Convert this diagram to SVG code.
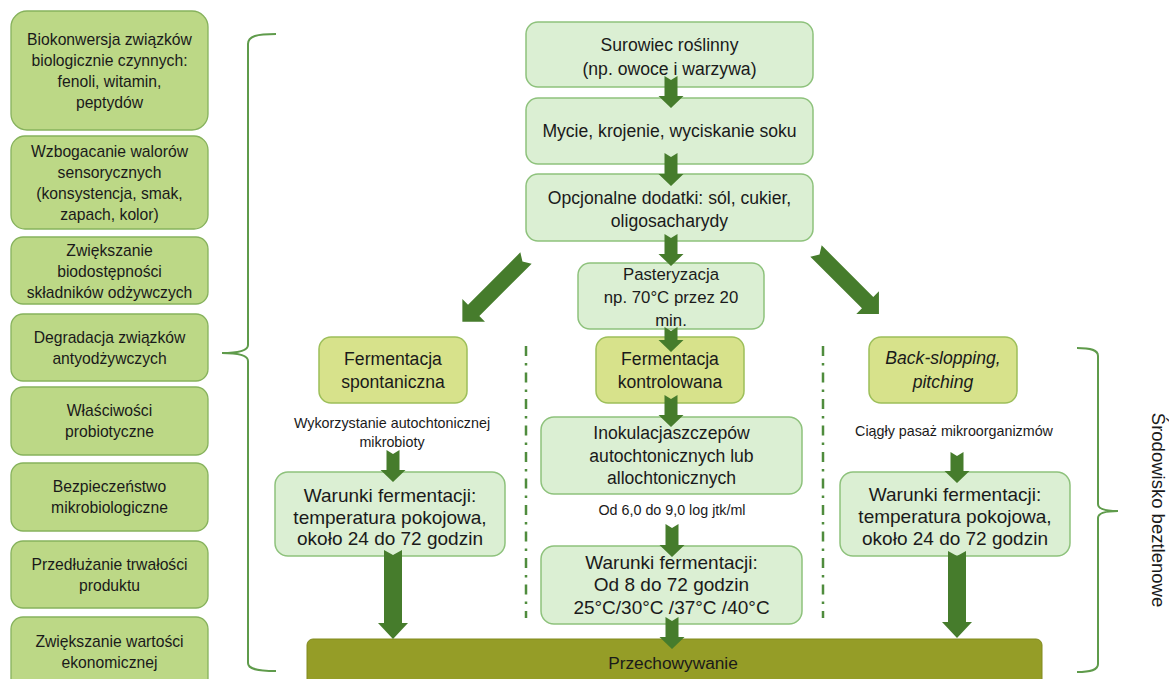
<svg xmlns="http://www.w3.org/2000/svg" width="1169" height="679" viewBox="0 0 1169 679">
<style>
text{font-family:"Liberation Sans",Arial,sans-serif;fill:#1a1a1a;text-anchor:middle;dominant-baseline:central}
.ben rect{fill:#bcd886;stroke:#86b25c;stroke-width:1.3}
.ben text{font-size:15.7px}
.step rect{fill:#dbefd3;stroke:#8ec27c;stroke-width:1.5}
.step text{font-size:17.6px}
.cond text{font-size:19px}
.ferm rect{fill:#d7e28b;stroke:#9dbf5a;stroke-width:1.5}
.ferm text{font-size:17.6px}
.lbl{font-size:14.3px}
.arr{fill:#467c2c}
.br{fill:none;stroke:#5f9b4b;stroke-width:2}
.dd{stroke:#4f8c3d;stroke-width:2.5;stroke-dasharray:10 7 2.5 7}
</style>
<rect width="1169" height="679" fill="#ffffff"/>

<g id="benefits" class="ben">
<g id="b1"><rect x="11" y="11" width="197" height="119" rx="16"/>
<text x="109.5" y="39">Biokonwersja związków</text><text x="109.5" y="60">biologicznie czynnych:</text><text x="109.5" y="81">fenoli, witamin,</text><text x="109.5" y="102">peptydów</text></g>
<g id="b2"><rect x="11" y="136" width="197" height="93" rx="14"/>
<text x="109.5" y="151.5">Wzbogacanie walorów</text><text x="109.5" y="172.5">sensorycznych</text><text x="109.5" y="193.5">(konsystencja, smak,</text><text x="109.5" y="214.5">zapach, kolor)</text></g>
<g id="b3"><rect x="11" y="237" width="197" height="67" rx="12"/>
<text x="109.5" y="250">Zwiększanie</text><text x="109.5" y="271">biodostępności</text><text x="109.5" y="292">składników odżywczych</text></g>
<g id="b4"><rect x="11" y="314" width="197" height="67" rx="12"/>
<text x="109.5" y="337">Degradacja związków</text><text x="109.5" y="358">antyodżywczych</text></g>
<g id="b5"><rect x="11" y="387" width="197" height="68" rx="12"/>
<text x="109.5" y="410.5">Właściwości</text><text x="109.5" y="431.5">probiotyczne</text></g>
<g id="b6"><rect x="11" y="463" width="197" height="68" rx="12"/>
<text x="109.5" y="486.5">Bezpieczeństwo</text><text x="109.5" y="507.5">mikrobiologiczne</text></g>
<g id="b7"><rect x="11" y="541" width="197" height="67" rx="12"/>
<text x="109.5" y="564">Przedłużanie trwałości</text><text x="109.5" y="585">produktu</text></g>
<g id="b8"><rect x="11" y="617" width="197" height="75" rx="12"/>
<text x="109.5" y="641">Zwiększanie wartości</text><text x="109.5" y="662">ekonomicznej</text></g>
</g>

<g id="brackets">
<path class="br" d="M276,34 C257,34 248,36 248,44 L248,345 C248,350 240,353 222,353 C240,353 248,356 248,361 L248,663 C248,669 257,671 276,671"/>
<path class="br" d="M1077,348 C1091,348 1098,350 1098,356 L1098,504 C1098,508 1104,511 1118,511 C1104,511 1098,514 1098,518 L1098,664 C1098,670 1091,672 1077,672"/>
</g>

<g id="separators">
<line class="dd" x1="526" y1="346" x2="526" y2="618"/>
<line class="dd" x1="823" y1="346" x2="823" y2="618"/>
</g>

<g id="n-surowiec" class="step"><rect x="526" y="22" width="287" height="65" rx="12"/>
<text x="669.5" y="45">Surowiec roślinny</text><text x="669.5" y="69">(np. owoce i warzywa)</text></g>
<g id="n-mycie" class="step"><rect x="526" y="98" width="287" height="66" rx="12"/>
<text x="669.5" y="131">Mycie, krojenie, wyciskanie soku</text></g>
<g id="n-dodatki" class="step"><rect x="526" y="174" width="287" height="67" rx="12"/>
<text x="669.5" y="198">Opcjonalne dodatki: sól, cukier,</text><text x="669.5" y="221">oligosacharydy</text></g>
<g id="n-pasteryzacja" class="step"><rect x="578" y="263" width="186" height="66" rx="12"/>
<text x="671" y="274" style="font-size:16.8px">Pasteryzacja</text><text x="671" y="297" style="font-size:16.8px">np. 70°C przez 20</text><text x="671" y="320" style="font-size:16.8px">min.</text></g>

<g id="n-spont" class="ferm"><rect x="319" y="337" width="148" height="66" rx="12"/>
<text x="393" y="359">Fermentacja</text><text x="393" y="382">spontaniczna</text></g>
<g id="n-kontr" class="ferm"><rect x="596" y="337" width="148" height="66" rx="12"/>
<text x="670" y="359">Fermentacja</text><text x="670" y="382">kontrolowana</text></g>
<g id="n-back" class="ferm"><rect x="869" y="337" width="148" height="66" rx="12"/>
<text x="943" y="358" font-style="italic">Back-slopping,</text><text x="943" y="382" font-style="italic">pitching</text></g>

<g id="l-wyk"><text class="lbl" x="392" y="423">Wykorzystanie autochtonicznej</text><text class="lbl" x="392" y="442">mikrobioty</text></g>
<g id="l-ciagly"><text class="lbl" x="954" y="431">Ciągły pasaż mikroorganizmów</text></g>
<g id="l-od"><text class="lbl" x="672" y="510">Od 6,0 do 9,0 log jtk/ml</text></g>

<g id="n-inok" class="step"><rect x="541" y="417" width="261" height="77" rx="13"/>
<text x="671.5" y="433">Inokulacjaszczepów</text><text x="671.5" y="456">autochtonicznych lub</text><text x="671.5" y="478">allochtonicznych</text></g>

<g id="n-war-l" class="step cond"><rect x="275" y="472" width="230" height="84" rx="13"/>
<text x="390" y="495">Warunki fermentacji:</text><text x="390" y="517">temperatura pokojowa,</text><text x="390" y="538">około 24 do 72 godzin</text></g>
<g id="n-war-c" class="step cond"><rect x="541" y="546" width="261" height="78" rx="13"/>
<text x="671.5" y="562">Warunki fermentacji:</text><text x="671.5" y="584">Od 8 do 72 godzin</text><text x="671.5" y="607">25°C/30°C /37°C /40°C</text></g>
<g id="n-war-r" class="step cond"><rect x="840" y="472" width="230" height="84" rx="13"/>
<text x="955" y="494">Warunki fermentacji:</text><text x="955" y="516">temperatura pokojowa,</text><text x="955" y="538">około 24 do 72 godzin</text></g>

<g id="n-przech"><rect x="307" y="639" width="735" height="60" rx="6" fill="#959d27" stroke="#818a1f" stroke-width="1"/>
<text x="673" y="663" style="font-size:17.3px">Przechowywanie</text></g>

<text id="n-srodowisko" transform="translate(1158,510) rotate(90)" style="font-size:18.5px">Środowisko beztlenowe</text>

<g id="connectors" class="arr">
<path d="M664.5,76 L671,80 L677.5,76 L677.5,96 L683.5,96 L671,108 L658.5,96 L664.5,96 Z"/>
<path d="M664.5,153 L671,157 L677.5,153 L677.5,174 L683.5,174 L671,186 L658.5,174 L664.5,174 Z"/>
<path d="M664.5,234 L671,238 L677.5,234 L677.5,254 L683.5,254 L671,266 L658.5,254 L664.5,254 Z"/>
<path d="M664.5,327 L671,331 L677.5,327 L677.5,340 L683.5,340 L671,352 L658.5,340 L664.5,340 Z"/>
<path d="M664.5,395 L671,399 L677.5,395 L677.5,415 L683.5,415 L671,427 L658.5,415 L664.5,415 Z"/>
<path d="M665.5,524 L672,528 L678.5,524 L678.5,545 L684.5,545 L672,557 L659.5,545 L665.5,545 Z"/>
<path d="M665.5,617 L672,621 L678.5,617 L678.5,637 L684.5,637 L672,649 L659.5,637 L665.5,637 Z"/>
<path d="M386.5,450 L393,454 L399.5,450 L399.5,470 L405.5,470 L393,482 L380.5,470 L386.5,470 Z"/>
<path d="M950.5,452 L957,456 L963.5,452 L963.5,471 L969.5,471 L957,483 L944.5,471 L950.5,471 Z"/>
<path d="M384,550 L393,555 L402,550 L402,623 L408,623 L393,639 L378,623 L384,623 Z"/>
<path d="M948,551 L957,556 L966,551 L966,622 L972,622 L957,638 L942,622 L948,622 Z"/>
<path transform="translate(526,258) rotate(135)" d="M0,-8 L5,0 L0,8 L74,8 L74,16 L90,0 L74,-16 L74,-8 Z"/>
<path transform="translate(816,251) rotate(45)" d="M0,-8 L5,0 L0,8 L73,8 L73,16 L89,0 L73,-16 L73,-8 Z"/>
</g>
</svg>
